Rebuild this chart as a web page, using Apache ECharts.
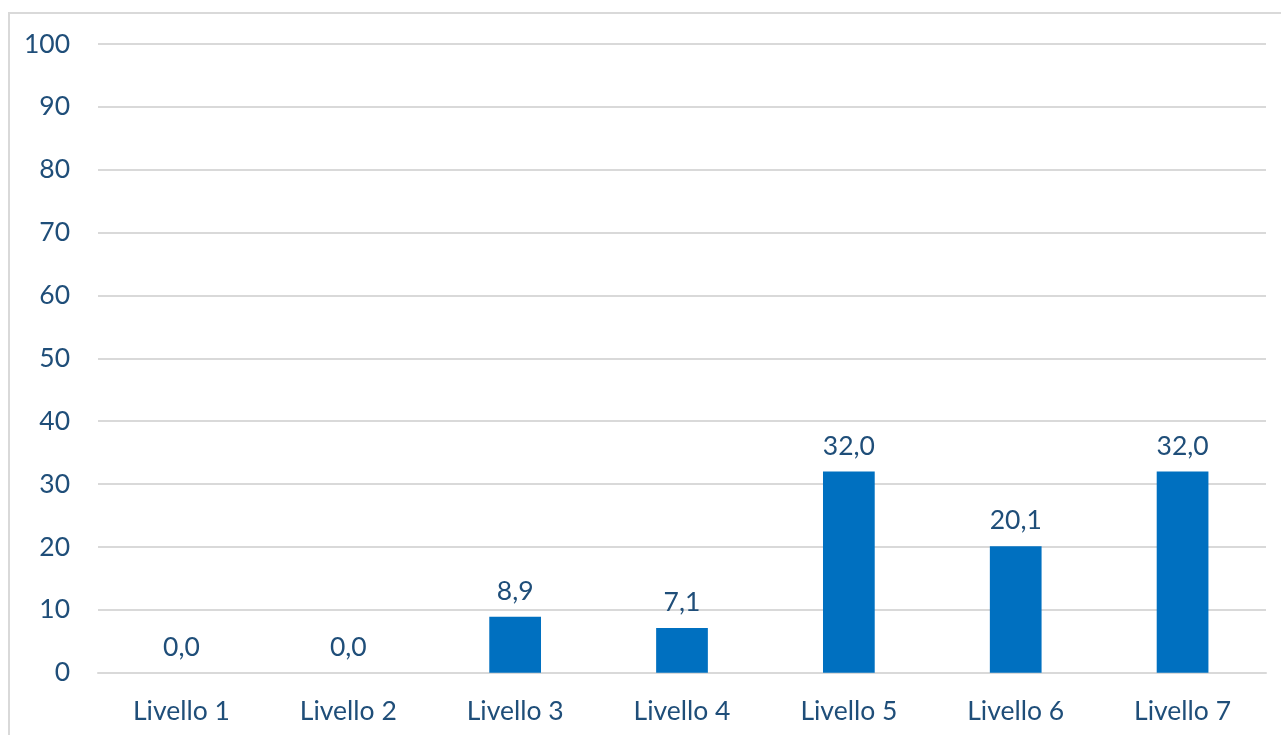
<!DOCTYPE html>
<html><head><meta charset="utf-8">
<script src="https://cdn.jsdelivr.net/npm/echarts@6/dist/echarts.min.js"></script>
<style>html,body{margin:0;padding:0;background:#fff}#c{width:1281px;height:735px}</style>
</head><body><div id="c"></div>
<script>
var categories = ['Livello 1','Livello 2','Livello 3','Livello 4','Livello 5','Livello 6','Livello 7'];
var values = [0.0, 0.0, 8.9, 7.1, 32.0, 20.1, 32.0];
var yTicks = [0,10,20,30,40,50,60,70,80,90,100];

var FONT = 'Lato';
var TXT = '#1F4E79';
var FS = 26.5;
var chart = echarts.init(document.getElementById('c'), null, {renderer:'canvas'});
chart.setOption({
  animation:false,
  backgroundColor:'#fff',
  graphic:[{type:'rect', shape:{x:9,y:13,width:1300,height:760}, style:{fill:'none', stroke:'#d9d9d9', lineWidth:2}, silent:true}],
  grid:{left:98, right:15, top:44, bottom:62.3, containLabel:false},
  xAxis:{type:'category', data:categories,
    axisLine:{show:true, lineStyle:{color:'#d9d9d9', width:2}},
    axisTick:{show:false},
    axisLabel:{color:TXT, fontFamily:FONT, fontSize:FS, margin:25}},
  yAxis:{type:'value', min:yTicks[0], max:yTicks[yTicks.length-1], interval:10,
    axisLine:{show:false}, axisTick:{show:false},
    splitLine:{lineStyle:{color:'#d9d9d9', width:2}},
    axisLabel:{color:TXT, fontFamily:FONT, fontSize:FS, margin:28}},
  series:[{type:'bar', data:values, barWidth:'31%',
    itemStyle:{color:'#0070C0'},
    label:{show:true, position:'top', distance:12, color:TXT, fontFamily:FONT, fontSize:FS,
      formatter:function(p){return p.value.toFixed(1).replace('.',',');}}}]
});
</script></body></html>
